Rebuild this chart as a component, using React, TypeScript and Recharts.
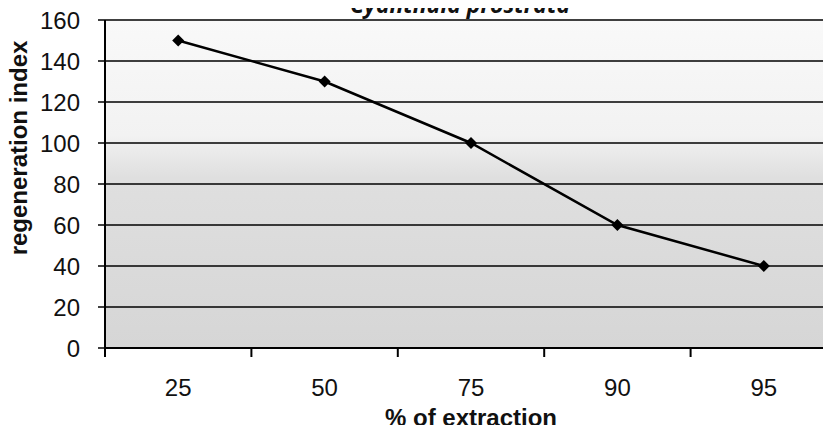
import React from 'react';
import { LineChart, Line, XAxis, YAxis, CartesianGrid } from 'recharts';

// % of extraction vs regeneration index
const extraction = ['25', '50', '75', '90', '95'];
const regeneration = [150, 130, 100, 60, 40];
const yTicks = [0, 20, 40, 60, 80, 100, 120, 140, 160];

const data = extraction.map((pct, i) => ({ pct, value: regeneration[i] }));

const AXIS_FONT = '"Liberation Sans", Arial, sans-serif';
const X_TICK_SIZE = 6;
const X_TICK_MARGIN = 25;

const Diamond = (props: any) => {
  const { cx, cy } = props;
  if (cx == null || cy == null) return null;
  const r = 6;
  return <path d={`M${cx} ${cy - r} L${cx + r} ${cy} L${cx} ${cy + r} L${cx - r} ${cy} Z`} fill="#000" />;
};

// Excel-style category tick: mark on the band's left edge, label in the middle
const CategoryTick = (props: any) => {
  const { x, y, payload, width, visibleTicksCount } = props;
  const band = width / (visibleTicksCount || extraction.length);
  const axisY = y - X_TICK_SIZE - X_TICK_MARGIN;
  const left = x - band / 2;
  const isLast = payload.index === (visibleTicksCount || extraction.length) - 1;
  return (
    <g>
      <line x1={left} x2={left} y1={axisY} y2={axisY + 9} stroke="#000" strokeWidth={2} />
      {isLast && <line x1={left + band} x2={left + band} y1={axisY} y2={axisY + 9} stroke="#000" strokeWidth={2} />}
      <text x={x} y={y} dy="0.71em" textAnchor="middle" fontSize={24} fontFamily={AXIS_FONT} fill="#111">
        {payload.value}
      </text>
    </g>
  );
};

export default function App() {
  return (
    <div style={{ position: 'relative', width: 831, height: 433, overflow: 'hidden', margin: -8, background: '#fff' }}>
      <svg width={0} height={0} style={{ position: 'absolute' }}>
        <defs>
          <linearGradient id="plotBg" x1="0" y1="0" x2="0" y2="1">
            <stop offset="0%" stopColor="#f9f9f9" />
            <stop offset="35%" stopColor="#f2f2f2" />
            <stop offset="48%" stopColor="#dfdfdf" />
            <stop offset="100%" stopColor="#d6d6d6" />
          </linearGradient>
        </defs>
      </svg>

      <LineChart width={840} height={433} data={data} margin={{ top: 20, right: 3, bottom: 25, left: 0 }}>
        <CartesianGrid vertical={false} stroke="#000" strokeWidth={1.5} fill="url(#plotBg)" fillOpacity={1} />
        <XAxis
          dataKey="pct"
          scale="band"
          height={60}
          stroke="#000"
          axisLine={{ stroke: '#000', strokeWidth: 2 }}
          tickLine={false}
          tickSize={X_TICK_SIZE}
          tickMargin={X_TICK_MARGIN}
          tick={<CategoryTick />}
          interval={0}
        />
        <YAxis
          domain={[0, 160]}
          ticks={yTicks}
          width={105}
          tickSize={7}
          tickMargin={18}
          stroke="#000"
          axisLine={{ stroke: '#000', strokeWidth: 2 }}
          tickLine={{ stroke: '#000', strokeWidth: 1.5 }}
          tick={{ fill: '#111', fontSize: 24, fontFamily: AXIS_FONT }}
        />
        <Line
          dataKey="value"
          stroke="#000"
          strokeWidth={2.5}
          dot={<Diamond />}
          activeDot={false}
          isAnimationActive={false}
        />
      </LineChart>

      <svg width={831} height={433} style={{ position: 'absolute', left: 0, top: 0, pointerEvents: 'none' }}>
        <text
          x={460}
          y={12.5}
          textAnchor="middle"
          fontFamily='"Open Sans", sans-serif'
          fontStyle="italic"
          fontWeight={700}
          fontSize={24}
          textLength={220}
          lengthAdjust="spacingAndGlyphs"
          fill="#111"
        >
          Cyanthula prostrata
        </text>
        <text x={471} y={426} textAnchor="middle" fontFamily={AXIS_FONT} fontWeight={700} fontSize={24} fill="#111">
          % of extraction
        </text>
        <text
          x={27}
          y={148}
          textAnchor="middle"
          transform="rotate(-90 27 148)"
          fontFamily={AXIS_FONT}
          fontWeight={700}
          fontSize={24}
          fill="#111"
        >
          regeneration index
        </text>
      </svg>
    </div>
  );
}
